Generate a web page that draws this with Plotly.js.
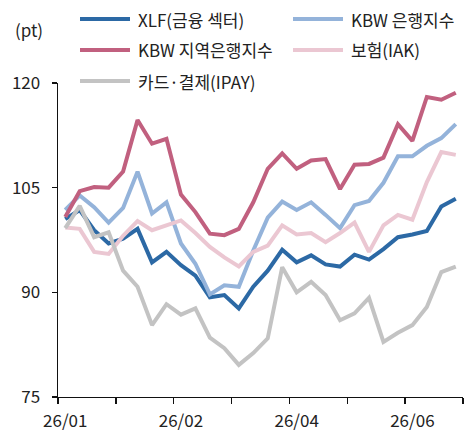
<!DOCTYPE html>
<html>
<head>
<meta charset="utf-8">
<script src="https://cdn.plot.ly/plotly-3.0.1.min.js"></script>
<style>
  html, body { margin: 0; padding: 0; background: #ffffff; }
  #chart { width: 472px; height: 436px; }
</style>
</head>
<body>
<div id="chart"></div>
<script>
// ---- data (weekly index, pt) ----
const seriesNames = ['XLF(금융 섹터)', 'KBW 은행지수', 'KBW 지역은행지수', '보험(IAK)', '카드·결제(IPAY)'];
const xlf = [100.5, 101.8, 98.9, 97.0, 97.7, 99.1, 94.3, 95.8, 93.9, 92.4, 89.3, 89.6, 87.7, 90.8,
             93.1, 96.1, 94.3, 95.3, 94.0, 93.7, 95.4, 94.7, 96.2, 97.9, 98.3, 98.8, 102.3, 103.4];
const kbwBank = [101.8, 103.9, 102.2, 100.0, 102.1, 107.3, 101.3, 102.9, 97.0, 94.1, 89.7, 91.0, 90.8, 96.0,
                 100.7, 103.0, 101.8, 102.9, 101.1, 99.2, 102.5, 103.1, 105.7, 109.5, 109.5, 111.0, 112.1, 114.1];
const kbwRegional = [100.8, 104.5, 105.1, 105.0, 107.3, 114.7, 111.3, 112.0, 104.0, 101.5, 98.4, 98.2, 99.1, 102.9,
                     107.7, 109.9, 107.7, 108.9, 109.1, 104.8, 108.3, 108.4, 109.3, 114.1, 111.7, 118.0, 117.6, 118.6];
const iak = [99.3, 99.1, 95.8, 95.5, 98.1, 100.2, 98.9, 99.6, 100.3, 98.5, 96.5, 95.0, 93.7, 95.8,
             96.7, 99.6, 98.3, 98.5, 97.2, 98.5, 100.0, 95.8, 99.6, 101.1, 100.4, 105.8, 110.1, 109.7];
const ipay = [99.2, 102.4, 97.9, 98.6, 93.1, 90.8, 85.3, 88.3, 86.8, 87.7, 83.5, 82.0, 79.6, 81.3,
              83.4, 93.6, 90.0, 91.5, 89.6, 86.0, 87.0, 89.2, 82.9, 84.2, 85.3, 87.9, 92.9, 93.7];
const xTickIndex = [0, 8, 16, 24];
const xTickLabels = ['26/01', '26/02', '26/04', '26/06'];
const yTickValues = [75, 90, 105, 120];
const unitLabel = '(pt)';

const seriesValues = [xlf, kbwBank, kbwRegional, iak, ipay];
const colors = ['#2c69a5', '#94b3da', '#c1607f', '#ebc7d2', '#c3c3c3'];
const weekIndex = xlf.map((_, i) => i);

const traces = seriesValues.map((vals, k) => ({
  type: 'scatter', mode: 'lines', x: weekIndex, y: vals, name: seriesNames[k],
  line: { color: colors[k], width: 4 }, hoverinfo: 'skip', showlegend: false
}));

// geometry helpers (pixel -> paper)
const W = 472, H = 436;
const M = { l: 58, r: 9, t: 83, b: 39 };
const pw = W - M.l - M.r, ph = H - M.t - M.b;
const px = x => (x - M.l) / pw;
const py = y => (H - M.b - y) / ph;

const FONT = '"Noto Sans CJK KR", "Noto Sans", sans-serif';
const shapes = [], annotations = [];
const legendPos = [[80, 19], [293, 19], [80, 50], [293, 50], [80, 81]];
seriesNames.forEach((nm, k) => {
  const [lx, ly] = legendPos[k];
  shapes.push({ type: 'line', xref: 'paper', yref: 'paper', x0: px(lx), x1: px(lx + 50), y0: py(ly), y1: py(ly),
                line: { color: colors[k], width: 4 } });
  annotations.push({ xref: 'paper', yref: 'paper', x: px(lx + 56), y: py(ly), xanchor: 'left', yanchor: 'middle',
                     text: nm, showarrow: false, font: { family: FONT, size: 17, color: '#222' } });
});
annotations.push({ xref: 'paper', yref: 'paper', x: px(13), y: py(30), xanchor: 'left', yanchor: 'middle',
                   text: unitLabel, showarrow: false, font: { family: FONT, size: 17, color: '#222' } });

const layout = {
  width: W, height: H, margin: M, showlegend: false,
  paper_bgcolor: '#ffffff', plot_bgcolor: '#ffffff',
  font: { family: FONT, size: 17, color: '#222' },
  xaxis: {
    range: [-0.5, 27.5], tickmode: 'array', tickvals: xTickIndex, ticktext: xTickLabels,
    ticks: '', showgrid: false, zeroline: false, showline: true, linecolor: '#111', linewidth: 1.4,
    ticklabelstandoff: 8,
    minor: { tick0: -0.5, dtick: 4, ticks: 'outside', ticklen: 6, tickcolor: '#111', tickwidth: 1.4, showgrid: false },
    tickfont: { family: FONT, size: 17, color: '#222' }, fixedrange: true
  },
  yaxis: {
    range: [75, 120], tickmode: 'array', tickvals: yTickValues,
    ticks: 'outside', ticklen: 5, tickcolor: '#111', tickwidth: 1.4,
    showgrid: false, zeroline: false, showline: true, linecolor: '#111', linewidth: 1.4,
    ticklabelstandoff: 8,
    tickfont: { family: FONT, size: 17, color: '#222' }, fixedrange: true
  },
  shapes: shapes, annotations: annotations
};

Plotly.newPlot('chart', traces, layout, { displayModeBar: false, staticPlot: true });
</script>
</body>
</html>
